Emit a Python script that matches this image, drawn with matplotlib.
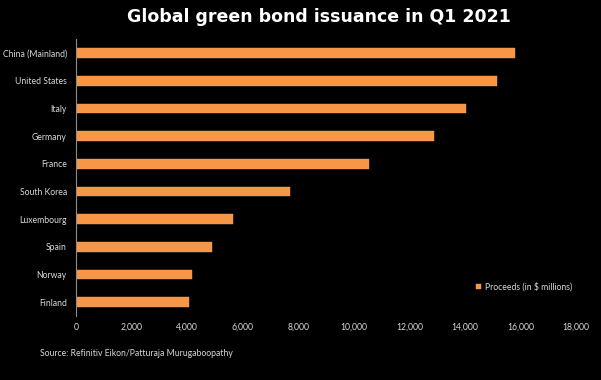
import matplotlib.pyplot as plt
import matplotlib.ticker as mticker

countries = ["China (Mainland)", "United States", "Italy", "Germany", "France",
             "South Korea", "Luxembourg", "Spain", "Norway", "Finland"]
proceeds = [15800, 15150, 14030, 12890, 10545, 7695, 5650, 4905, 4160, 4065]
xticks = [0, 2000, 4000, 6000, 8000, 10000, 12000, 14000, 16000, 18000]

plt.rcParams['font.family'] = ['Lato', 'DejaVu Sans']

fig = plt.figure(figsize=(6.01, 3.80), dpi=100, facecolor='black')
ax = fig.add_axes([76/601, 1-316/380, 500/601, (316-39.5)/380], facecolor='black')

ypos = list(range(len(countries)))
ax.barh(ypos, proceeds, height=0.35, color='#F79646', edgecolor='#F4A460', linewidth=0.3,
        label='Proceeds (in $ millions)')
ax.set_ylim(len(countries)-0.5, -0.5)
ax.set_xlim(0, 18000)
ax.set_yticks(ypos)
ax.set_yticklabels(countries)
ax.set_xticks(xticks)
ax.xaxis.set_major_formatter(mticker.FuncFormatter(lambda v, p: f"{int(v):,}"))
ax.tick_params(axis='both', colors='#D9D9D9', labelsize=6.2, length=0, pad=6.5)
ax.tick_params(axis='x', pad=5)
for s in ['top', 'right', 'bottom']:
    ax.spines[s].set_visible(False)
ax.spines['left'].set_color('#8C8C8C')
ax.spines['left'].set_linewidth(0.8)

leg = ax.legend(loc='center left', bbox_to_anchor=(0.785, 0.105), frameon=False,
                fontsize=6.2, handlelength=0.6, handleheight=0.6, handletextpad=0.4)
for t in leg.get_texts():
    t.set_color('#D9D9D9')

fig.text(0.531, 0.955, "Global green bond issuance in Q1 2021", color='white',
         fontsize=12.5, fontweight='heavy', ha='center', va='center', family=['DejaVu Sans'])
fig.text(40/601, 1-353/380, "Source: Refinitiv Eikon/Patturaja Murugaboopathy",
         color='#D9D9D9', fontsize=6.2, ha='left', va='center')

fig.savefig('out.png', dpi=100, facecolor='black')
